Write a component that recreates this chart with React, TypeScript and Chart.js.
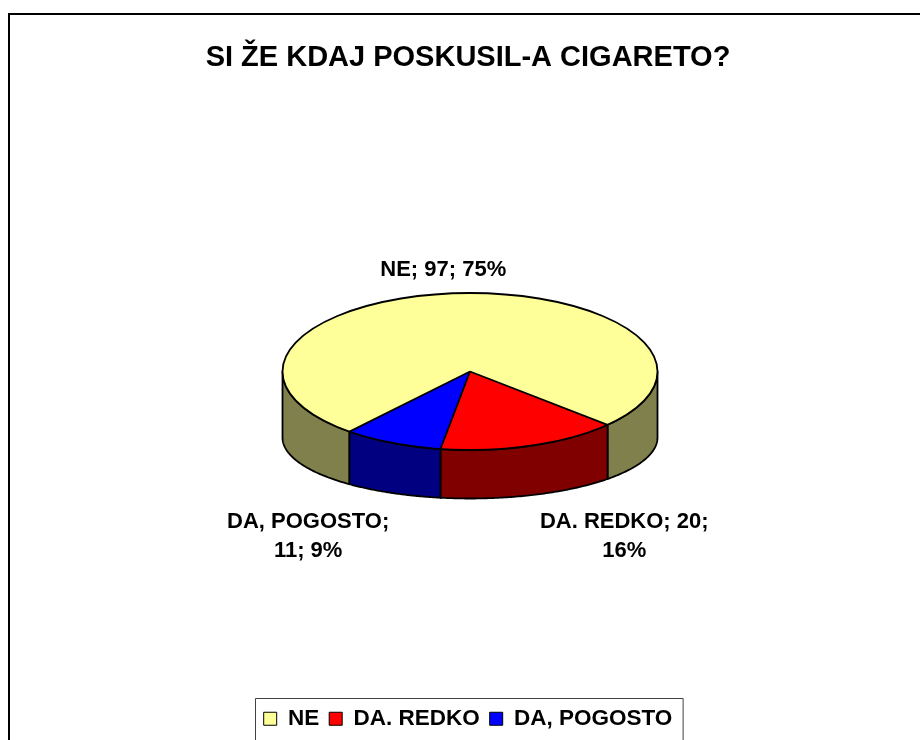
import React, { useEffect, useRef } from "react";
import { Chart, registerables } from "chart.js";

Chart.register(...registerables);

// ---- data ----
const TITLE = "SI ŽE KDAJ POSKUSIL-A CIGARETO?";
const CATEGORIES = ["NE", "DA. REDKO", "DA, POGOSTO"];
const COUNTS = [97, 20, 11];
const PERCENTS = ["75%", "16%", "9%"];
// how many "; "-separated parts go on the first line of each data label
const LABEL_FIRST_LINE_PARTS = [3, 2, 1];

// ---- styles ----
const TOP_COLORS = ["#FFFF99", "#FF0000", "#0000FF"];
const SIDE_COLORS = ["#80804C", "#800000", "#000080"];
const FONT = "Arial, 'Liberation Sans', Helvetica, sans-serif";

// ---- 3D geometry (projection of the pie) ----
const CX = 470;
const CY = 371.5;
const RX = 187.5;
const RY = 78.5;
const BCY = 437.5;
const BRY = 61;
const ROTATION = 220;
// label offsets relative to the slice's outer point on the top ellipse
const LABEL_OFFSETS = [
  { dx: -15, dy: -23 },
  { dx: 93, dy: 91 },
  { dx: -84, dy: 94 },
];

function frontSegments(s: number, e: number): [number, number][] {
  const TAU = Math.PI * 2;
  const off = Math.floor(s / TAU) * TAU;
  s -= off;
  e -= off;
  const out: [number, number][] = [];
  const ranges: [number, number][] = [
    [0, Math.PI],
    [TAU, TAU + Math.PI],
  ];
  for (const [lo, hi] of ranges) {
    const a = Math.max(s, lo);
    const b = Math.min(e, hi);
    if (b > a) out.push([a, b]);
  }
  return out;
}

const pie3dPlugin = {
  id: "pie3d",
  beforeDraw(chart: any) {
    const ctx = chart.ctx;
    ctx.save();
    ctx.fillStyle = "#fff";
    ctx.fillRect(0, 0, chart.width, chart.height);
    ctx.strokeStyle = "#000";
    ctx.lineWidth = 2;
    ctx.strokeRect(9, 14, 2000, 2000);
    ctx.restore();
  },
  beforeDatasetsDraw(chart: any) {
    const ctx = chart.ctx;
    const arcs = chart.getDatasetMeta(0).data;
    arcs.forEach((arc: any, i: number) => {
      const { startAngle, endAngle } = arc.getProps(["startAngle", "endAngle"], true);
      frontSegments(startAngle, endAngle).forEach(([a, b]) => {
        const n = 80;
        ctx.beginPath();
        for (let k = 0; k <= n; k++) {
          const t = a + ((b - a) * k) / n;
          const x = CX + RX * Math.cos(t);
          const y = CY + RY * Math.sin(t);
          if (k === 0) ctx.moveTo(x, y);
          else ctx.lineTo(x, y);
        }
        for (let k = n; k >= 0; k--) {
          const t = a + ((b - a) * k) / n;
          ctx.lineTo(CX + RX * Math.cos(t), BCY + BRY * Math.sin(t));
        }
        ctx.closePath();
        ctx.fillStyle = SIDE_COLORS[i];
        ctx.fill();
        ctx.lineWidth = 1.8;
        ctx.lineJoin = "round";
        ctx.strokeStyle = "#000";
        ctx.stroke();
      });
    });
    const a0 = arcs[0];
    ctx.save();
    ctx.translate(CX, CY);
    ctx.scale(1, RY / RX);
    ctx.translate(-a0.x, -a0.y);
  },
  afterDatasetsDraw(chart: any) {
    const ctx = chart.ctx;
    ctx.restore();
    const arcs = chart.getDatasetMeta(0).data;
    ctx.save();
    ctx.strokeStyle = "#000";
    ctx.lineWidth = 1.8;
    ctx.lineJoin = "round";
    ctx.beginPath();
    ctx.ellipse(CX, CY, RX, RY, 0, 0, Math.PI * 2);
    ctx.stroke();
    arcs.forEach((arc: any) => {
      const { startAngle } = arc.getProps(["startAngle"], true);
      ctx.beginPath();
      ctx.moveTo(CX, CY);
      ctx.lineTo(CX + RX * Math.cos(startAngle), CY + RY * Math.sin(startAngle));
      ctx.stroke();
    });
    ctx.restore();
  },
  afterDraw(chart: any) {
    const ctx = chart.ctx;
    const arcs = chart.getDatasetMeta(0).data;
    ctx.save();
    ctx.fillStyle = "#000";
    ctx.font = `bold 22px ${FONT}`;
    ctx.textAlign = "center";
    ctx.textBaseline = "middle";
    arcs.forEach((arc: any, i: number) => {
      const { startAngle, endAngle } = arc.getProps(["startAngle", "endAngle"], true);
      const mid = (startAngle + endAngle) / 2;
      const px = CX + RX * Math.cos(mid) + LABEL_OFFSETS[i].dx;
      const py = CY + RY * Math.sin(mid) + LABEL_OFFSETS[i].dy;
      const parts = [CATEGORIES[i], String(COUNTS[i]), PERCENTS[i]];
      const n = LABEL_FIRST_LINE_PARTS[i];
      const lines: string[] = [];
      if (n >= parts.length) lines.push(parts.join("; "));
      else {
        lines.push(parts.slice(0, n).join("; ") + ";");
        lines.push(parts.slice(n).join("; "));
      }
      const lh = 29;
      const y0 = py - ((lines.length - 1) * lh) / 2;
      lines.forEach((l, k) => ctx.fillText(l, px, y0 + k * lh));
    });
    // legend frame
    const lg = chart.legend;
    if (lg && lg.legendHitBoxes && lg.legendHitBoxes.length) {
      const hb = lg.legendHitBoxes;
      const left = hb[0].left - 9;
      const right = hb[hb.length - 1].left + hb[hb.length - 1].width + 10;
      ctx.strokeStyle = "#404040";
      ctx.lineWidth = 1;
      ctx.strokeRect(Math.round(left) + 0.5, Math.round(lg.top) + 0.5, right - left, 200);
    }
    ctx.restore();
  },
};

export default function App() {
  const ref = useRef<HTMLCanvasElement | null>(null);
  useEffect(() => {
    if (!ref.current) return;
    const chart = new Chart(ref.current, {
      type: "pie",
      data: {
        labels: CATEGORIES,
        datasets: [
          {
            data: COUNTS,
            backgroundColor: TOP_COLORS,
            borderWidth: 0,
            radius: RX,
          } as any,
        ],
      },
      options: {
        animation: false,
        responsive: false,
        devicePixelRatio: 1,
        rotation: ROTATION,
        layout: { padding: { left: 16, right: 0, top: 0, bottom: 0 } },
        plugins: {
          title: {
            display: true,
            text: TITLE,
            color: "#000",
            font: { family: FONT, size: 29, weight: "bold" },
            padding: { top: 41, bottom: 10 },
          },
          legend: {
            display: true,
            position: "bottom",
            labels: {
              color: "#000",
              font: { family: FONT, size: 22.5, weight: "bold" },
              boxWidth: 13,
              boxHeight: 13,
              padding: 10,
              generateLabels: () =>
                CATEGORIES.map((c, i) => ({
                  text: c,
                  fillStyle: TOP_COLORS[i],
                  strokeStyle: "#000",
                  lineWidth: 1,
                  hidden: false,
                  index: i,
                  fontColor: "#000",
                })),
            },
          },
          tooltip: { enabled: false },
        },
      } as any,
      plugins: [pie3dPlugin],
    });
    return () => chart.destroy();
  }, []);
  return (
    <div style={{ position: "fixed", left: 0, top: 0, width: 920, height: 740, background: "#fff" }}>
      <canvas ref={ref} width={920} height={740} style={{ display: "block" }} />
    </div>
  );
}
